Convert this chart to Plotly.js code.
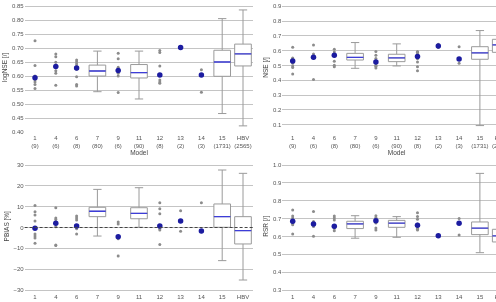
<!DOCTYPE html>
<html><head><meta charset="utf-8">
<script src="https://cdn.plot.ly/plotly-3.0.1.min.js"></script>
<style>html,body{margin:0;padding:0;overflow:hidden;background:#fff}#c{position:absolute;left:0;top:0}
#c .main-svg{will-change:transform}</style>
</head><body><div id="c"></div>
<script>
// ---- data ----
const cats = ['1','4','6','7','9','11','12','13','14','15','HBV'];
const counts = [9,6,8,80,6,90,8,2,3,1731,2565];
const smallCats = ['1','4','6','9','12','13','14'];
const boxCats = ['7','11','15','HBV'];

// logNSE
const lognsePts = [
  [0.727,0.639,0.601,0.596,0.595,0.587,0.580,0.571,0.556],
  [0.680,0.670,0.650,0.620,0.611,0.568],
  [0.658,0.651,0.644,0.636,0.625,0.598,0.571,0.565],
  [0.682,0.663,0.632,0.611,0.601,0.542],
  [0.692,0.685,0.637,0.606,0.603,0.587,0.580,0.575],
  [0.706,0.701],
  [0.623,0.605,0.543]
];
const lognseMed = [0.595,0.635,0.630,0.621,0.605,0.703,0.605];
const lognseQ1 = [0.601,0.594,0.600,0.637];
const lognseMd = [0.619,0.613,0.651,0.680];
const lognseQ3 = [0.640,0.642,0.693,0.715];
const lognseLo = [0.545,0.519,0.467,0.423];
const lognseHi = [0.690,0.690,0.806,0.837];

// NSE
const nsePts = [
  [0.623,0.550,0.546,0.538,0.531,0.515,0.497,0.487,0.443],
  [0.639,0.578,0.560,0.555,0.550,0.405],
  [0.609,0.591,0.578,0.572,0.565,0.528,0.501,0.492],
  [0.594,0.569,0.547,0.501,0.495,0.483],
  [0.594,0.590,0.585,0.573,0.546,0.524,0.492,0.465],
  [0.643,0.621],
  [0.627,0.540,0.515]
];
const nseMed = [0.531,0.555,0.569,0.524,0.560,0.632,0.544];
const nseQ1 = [0.537,0.526,0.542,0.589];
const nseMd = [0.555,0.551,0.585,0.639];
const nseQ3 = [0.582,0.576,0.627,0.677];
const nseLo = [0.481,0.497,0.094,0.30];
const nseHi = [0.655,0.646,0.736,0.80];

// PBIAS
const pbiasPts = [
  [10.6,7.6,6.0,3.1,-0.4,-3.1,-4.1,-5.0,-7.6],
  [9.5,4.6,3.9,0.4,-8.4,-8.6],
  [5.5,4.6,3.6,0.9,0.5,0.2,-0.6,-3.1],
  [2.6,1.7,-4.2,-4.6,-5.4,-13.7],
  [11.9,9.0,6.6,1.0,0.4,-0.6,-1.2,-8.2],
  [8.1,-1.8],
  [11.9,-1.7,-2.0]
];
const pbiasMed = [-0.4,2.0,0.7,-4.4,0.7,3.1,-1.7];
const pbiasQ1 = [5.2,4.2,0.1,-7.9];
const pbiasMd = [7.8,6.8,5.2,-1.5];
const pbiasQ3 = [9.7,9.5,11.3,5.2];
const pbiasLo = [-4.1,0.1,-15.9,-25.2];
const pbiasHi = [18.3,19.1,27.6,26.0];

// RSR
const rsrPts = [
  [0.748,0.715,0.703,0.692,0.685,0.680,0.673,0.665,0.614],
  [0.739,0.683,0.675,0.665,0.655,0.601],
  [0.715,0.703,0.692,0.660,0.655,0.650,0.644,0.632],
  [0.716,0.705,0.700,0.675,0.647,0.636],
  [0.733,0.711,0.696,0.669,0.655,0.645,0.640,0.636],
  [0.607,0.601],
  [0.700,0.674,0.608]
];
const rsrMed = [0.685,0.670,0.657,0.688,0.662,0.604,0.674];
const rsrQ1 = [0.644,0.651,0.610,0.569];
const rsrMd = [0.670,0.674,0.646,0.603];
const rsrQ3 = [0.685,0.690,0.681,0.640];
const rsrLo = [0.590,0.595,0.509,0.45];
const rsrHi = [0.716,0.711,0.953,0.80];

// ---- style / geometry ----
const W = 520, H = 320;
const FONT = 'Liberation Sans, Arial, sans-serif';
const GRAY = '#9a9a9a', BLUE = '#1c1ca0', MEDBLUE = '#3d3dd8';
const tickText = cats.map((c,i)=> c + '<br>(' + counts[i] + ')');

function rng(p1,v1,p2,v2,top,bot){
  const s = (v2-v1)/(p2-p1);
  return [v1 + (bot-p1)*s, v1 + (top-p1)*s];
}
const panels = [
  {pts:lognsePts, med:lognseMed, q1:lognseQ1, md:lognseMd, q3:lognseQ3, lo:lognseLo, hi:lognseHi,
   title:'logNSE [/]', x:[24.6,253.4], y:[2,132.8], cal:[6.3,0.85,132.3,0.40], dt:0.05, fmt:'.2f', t0:0.40, t1:0.85},
  {pts:nsePts, med:nseMed, q1:nseQ1, md:nseMd, q3:nseQ3, lo:nseLo, hi:nseHi,
   title:'NSE [/]', x:[282.3,511.1], y:[2,132.8], cal:[6.3,0.9,124.7,0.1], dt:0.1, fmt:'.1f', t0:0.1, t1:0.9},
  {pts:pbiasPts, med:pbiasMed, q1:pbiasQ1, md:pbiasMd, q3:pbiasQ3, lo:pbiasLo, hi:pbiasHi,
   title:'PBIAS [%]', x:[24.6,253.4], y:[161,291.5], cal:[165,30,290,-30], dt:10, fmt:'d', t0:-30, t1:30},
  {pts:rsrPts, med:rsrMed, q1:rsrQ1, md:rsrMd, q3:rsrQ3, lo:rsrLo, hi:rsrHi,
   title:'RSR [/]', x:[282.3,511.1], y:[161,291.5], cal:[165,1.0,290,0.3], dt:0.1, fmt:'.1f', t0:0.3, t1:1.0}
];

const data = [], layout = {
  width:W, height:H, margin:{l:0,r:0,t:0,b:0}, showlegend:false,
  paper_bgcolor:'rgba(0,0,0,0)', plot_bgcolor:'rgba(0,0,0,0)', font:{family:FONT, size:6, color:'#555'}, shapes:[]
};
panels.forEach((P,k)=>{
  const n = k===0 ? '' : String(k+1);
  const xa = 'x'+n, ya = 'y'+n;
  const gx=[], gy=[];
  P.pts.forEach((arr,i)=>arr.forEach(v=>{gx.push(smallCats[i]); gy.push(v);}));
  data.push({type:'scatter', mode:'markers', x:gx, y:gy, xaxis:xa, yaxis:ya,
    marker:{size:3, color:'#8c8c8c'}, hoverinfo:'skip'});
  data.push({type:'box', x:boxCats, q1:P.q1, median:P.md, q3:P.q3, lowerfence:P.lo, upperfence:P.hi,
    xaxis:xa, yaxis:ya, width:0.8, whiskerwidth:0.5, boxpoints:false,
    line:{color:GRAY, width:1}, fillcolor:'#ffffff'});
  data.push({type:'box', x:boxCats, q1:P.md, median:P.md, q3:P.md, lowerfence:P.md, upperfence:P.md,
    xaxis:xa, yaxis:ya, width:0.8, whiskerwidth:0.0, boxpoints:false,
    line:{color:MEDBLUE, width:1.3}, fillcolor:'rgba(0,0,0,0)'});
  data.push({type:'scatter', mode:'markers', x:smallCats, y:P.med, xaxis:xa, yaxis:ya,
    marker:{size:5.5, color:BLUE}, hoverinfo:'skip'});
  const c = P.cal;
  const tv=[]; for(let t=P.t0; t<=P.t1+1e-9; t+=P.dt) tv.push(+t.toFixed(3));
  layout['xaxis'+n] = {domain:[P.x[0]/W, P.x[1]/W], anchor:ya, type:'category',
    categoryorder:'array', categoryarray:cats, range:[-0.5,10.5],
    tickvals:cats, ticktext:tickText, ticks:'', showgrid:false, zeroline:false, showline:false,
    tickfont:{size:6, color:'#555'}, title:{text:'Model', font:{size:6.5, color:'#444'}, standoff:2}};
  layout['yaxis'+n] = {domain:[1-P.y[1]/H, 1-P.y[0]/H], anchor:xa,
    range:rng(c[0],c[1],c[2],c[3],P.y[0],P.y[1]), tickvals:tv, tickformat:P.fmt,
    ticks:'', showgrid:true, gridcolor:'#c4c4c4', gridwidth:1, zeroline:false, showline:false,
    tickfont:{size:6, color:'#555'}, title:{text:P.title, font:{size:6.5, color:'#444'}, standoff:3}};
});
layout.shapes.push({type:'line', xref:'x3 domain', x0:0, x1:1, yref:'y3', y0:0, y1:0,
  line:{color:'#444', width:1, dash:'3px,2px'}, layer:'above'});
Plotly.newPlot('c', data, layout, {staticPlot:true, displayModeBar:false});
</script></body></html>
